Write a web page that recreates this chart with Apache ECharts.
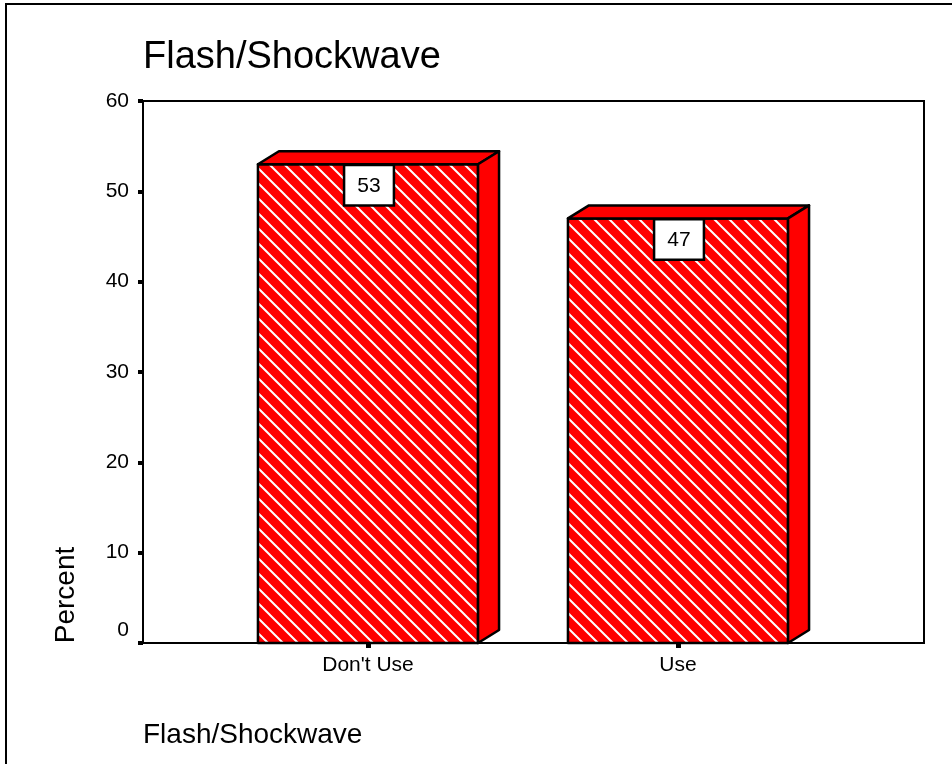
<!DOCTYPE html>
<html>
<head>
<meta charset="utf-8">
<script src="https://cdn.jsdelivr.net/npm/echarts@6/dist/echarts.min.js"></script>
<style>
html, body { margin: 0; padding: 0; background: #fff; }
#myChart { width: 952px; height: 764px; }
</style>
</head>
<body>
<div id="myChart"></div>
<script>
var categories = ["Don't Use", 'Use'];
var percents = [53, 47];
var yTicks = [0, 10, 20, 30, 40, 50, 60];

var font = '"Liberation Sans", Arial, sans-serif';

// red tile with white "\" hatch lines
function hatchTile () {
  var p = 15;
  var c = document.createElement('canvas');
  c.width = p;
  c.height = p;
  var ctx = c.getContext('2d');
  ctx.fillStyle = '#ff0000';
  ctx.fillRect(0, 0, p, p);
  ctx.strokeStyle = '#ffffff';
  ctx.lineWidth = 2;
  ctx.beginPath();
  for (var k = -1; k <= 1; k++) {
    ctx.moveTo(-2, -2 + k * p);
    ctx.lineTo(p + 2, p + 2 + k * p);
  }
  ctx.stroke();
  return c;
}
var hatch = { image: hatchTile(), repeat: 'repeat' };

function renderBar (params, api) {
  var v = api.value(1);
  var top = api.coord([api.value(0), v]);
  var base = api.coord([api.value(0), 0]);
  var w = api.size([1, 0])[0] * 0.71;
  var x0 = top[0] - w / 2;
  var x1 = top[0] + w / 2;
  var y0 = top[1];
  var yb = base[1];
  var dx = 21, dy = 13;
  var edge = { stroke: '#000', lineWidth: 2.5, lineJoin: 'round' };
  return {
    type: 'group',
    children: [
      { type: 'rect', shape: { x: x0, y: y0, width: w, height: yb - y0 },
        style: Object.assign({ fill: hatch }, edge) },
      { type: 'polygon', shape: { points: [[x0, y0], [x0 + dx, y0 - dy], [x1 + dx, y0 - dy], [x1, y0]] },
        style: Object.assign({ fill: '#ff0000' }, edge) },
      { type: 'polygon', shape: { points: [[x1, y0], [x1 + dx, y0 - dy], [x1 + dx, yb - dy], [x1, yb]] },
        style: Object.assign({ fill: '#ff0000' }, edge) },
      { type: 'text', x: top[0] + 1, y: y0 + 2,
        style: {
          text: String(v), fontSize: 21, fontFamily: font, fill: '#000',
          align: 'center', verticalAlign: 'top',
          backgroundColor: '#fff', borderColor: '#000', borderWidth: 2.5,
          padding: [9, 12, 8, 12]
        } }
    ]
  };
}

var myChart = echarts.init(document.getElementById('myChart'));
myChart.setOption({
  animation: false,
  backgroundColor: '#fff',
  title: [
    {
      text: 'Flash/Shockwave', left: 143, top: 39, padding: 0,
      textStyle: { fontFamily: font, fontSize: 38, fontWeight: 'normal', color: '#000' }
    },
    {
      text: 'Flash/Shockwave', left: 143, top: 721, padding: 0,
      textStyle: { fontFamily: font, fontSize: 28, fontWeight: 'normal', color: '#000' }
    }
  ],
  graphic: [
    { type: 'rect', shape: { x: 6, y: 4, width: 1000, height: 1000 },
      style: { fill: 'none', stroke: '#000', lineWidth: 2 } },
    { type: 'text', x: 66, y: 595, rotation: Math.PI / 2,
      style: { text: 'Percent', fontSize: 28, fontFamily: font, fill: '#000', align: 'center', verticalAlign: 'middle' } }
  ],
  grid: [
    { left: 143, right: 28, top: 101, bottom: 121, show: true, borderColor: '#000', borderWidth: 2, backgroundColor: 'transparent' },
    { left: 213, right: 119, top: 101, bottom: 121 }
  ],
  xAxis: [
    { gridIndex: 0, type: 'value', show: false },
    {
      gridIndex: 1, type: 'category', data: categories,
      axisLine: { show: false },
      axisTick: { show: true, alignWithLabel: true, length: 5, lineStyle: { color: '#000', width: 5 } },
      axisLabel: { margin: 12, fontSize: 21, fontFamily: font, color: '#000' }
    }
  ],
  yAxis: [
    {
      gridIndex: 0, type: 'value', min: yTicks[0], max: yTicks[yTicks.length - 1], interval: 10,
      axisLine: { show: true, lineStyle: { color: '#000', width: 2 } },
      axisTick: { show: true, length: 5, lineStyle: { color: '#000', width: 4 } },
      splitLine: { show: false },
      axisLabel: {
        margin: 14, fontSize: 21, fontFamily: font, color: '#000',
        formatter: function (v) { return v === 0 ? '{z|0}' : String(v); },
        rich: { z: { fontSize: 21, fontFamily: font, color: '#000', padding: [0, 0, 26, 0] } }
      }
    },
    { gridIndex: 1, type: 'value', min: yTicks[0], max: yTicks[yTicks.length - 1], show: false }
  ],
  series: [
    {
      type: 'custom',
      xAxisIndex: 1,
      yAxisIndex: 1,
      renderItem: renderBar,
      encode: { x: 0, y: 1 },
      data: categories.map(function (c, i) { return [i, percents[i]]; })
    }
  ]
});
</script>
</body>
</html>
